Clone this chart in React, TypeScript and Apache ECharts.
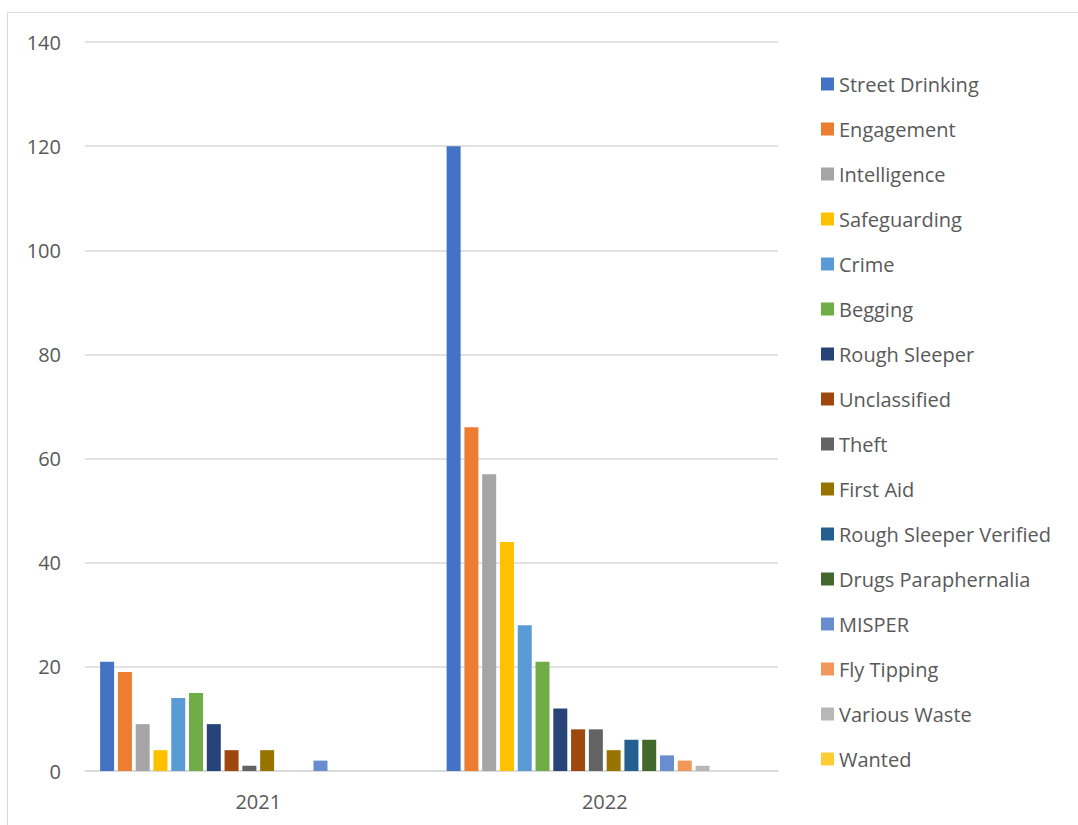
import React, { useEffect, useRef } from "react";
import * as echarts from "echarts";

const categories = ["2021", "2022"];
const seriesNames = [
  "Street Drinking", "Engagement", "Intelligence", "Safeguarding", "Crime", "Begging",
  "Rough Sleeper", "Unclassified", "Theft", "First Aid", "Rough Sleeper Verified",
  "Drugs Paraphernalia", "MISPER", "Fly Tipping", "Various Waste", "Wanted",
];
const values2021 = [21, 19, 9, 4, 14, 15, 9, 4, 1, 4, 0, 0, 2, 0, 0, 0];
const values2022 = [120, 66, 57, 44, 28, 21, 12, 8, 8, 4, 6, 6, 3, 2, 1, 0];
const colors = [
  "#4472C4", "#ED7D31", "#A5A5A5", "#FFC000", "#5B9BD5", "#70AD47",
  "#264478", "#9E480E", "#636363", "#997300", "#255E91", "#43682B",
  "#698ED0", "#F1975A", "#B7B7B7", "#FFCD33",
];
// two further (unlisted) series occupy slots in the clusters
const hiddenSlots = 2;

export default function App() {
  const ref = useRef<HTMLDivElement>(null);
  useEffect(() => {
    const chart = echarts.init(ref.current!, null, { renderer: "svg" });
    const font = "'Open Sans', 'Noto Sans', sans-serif";
    const series: any[] = seriesNames.map((name, i) => ({
      name,
      type: "bar",
      data: [values2021[i], values2022[i]],
      itemStyle: { color: colors[i] },
      barWidth: 14,
      barGap: "27%",
    }));
    for (let k = 0; k < hiddenSlots; k++) {
      series.push({
        name: "_hidden" + k,
        type: "bar",
        data: [null, null],
        barWidth: 14,
        barGap: "27%",
      });
    }
    chart.setOption({
      animation: false,
      grid: { left: 85, right: 300, top: 42, bottom: 54 },
      legend: {
        data: seriesNames,
        orient: "vertical",
        left: 816,
        top: 69,
        icon: "rect",
        itemWidth: 13,
        itemHeight: 13,
        itemGap: 25,
        textStyle: { color: "#595959", fontSize: 20, fontFamily: font, lineHeight: 20 },
      },
      xAxis: {
        type: "category",
        data: categories,
        axisLine: { lineStyle: { color: "#d9d9d9", width: 1.5 } },
        axisTick: { show: false },
        axisLabel: { color: "#595959", fontSize: 20, fontFamily: font, margin: 20 },
      },
      yAxis: {
        type: "value",
        min: 0,
        max: 140,
        interval: 20,
        axisLine: { show: false },
        axisTick: { show: false },
        splitLine: { lineStyle: { color: "#d9d9d9", width: 1.5 } },
        axisLabel: { color: "#595959", fontSize: 20, fontFamily: font, margin: 24 },
      },
      graphic: [
        {
          type: "rect",
          shape: { x: 7.5, y: 12.5, width: 1200, height: 900 },
          style: { fill: "none", stroke: "#d9d9d9", lineWidth: 1 },
          silent: true,
        },
      ],
      series,
    });
    return () => chart.dispose();
  }, []);
  return (
    <div
      ref={ref}
      style={{ position: "fixed", left: 0, top: 0, width: 1078, height: 825, background: "#fff" }}
    />
  );
}
